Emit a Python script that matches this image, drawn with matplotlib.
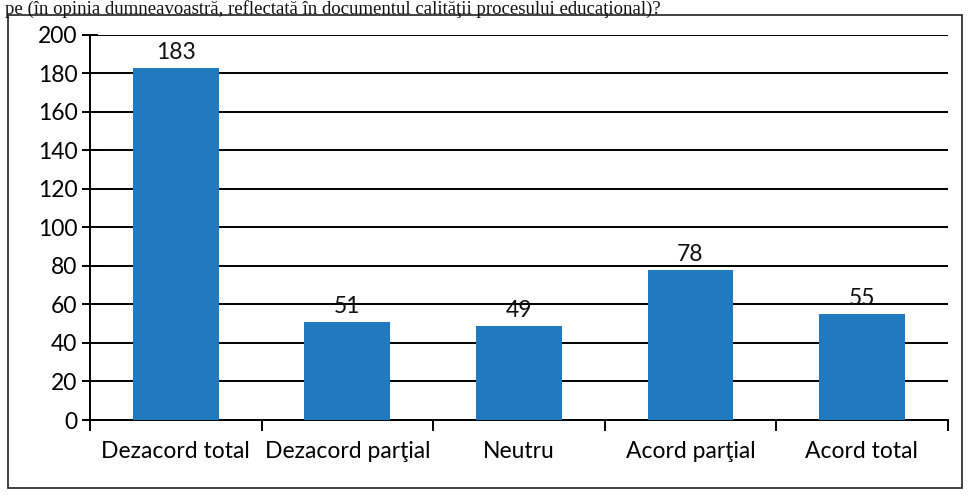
import matplotlib.pyplot as plt
from matplotlib.patches import Rectangle

# Survey answers
categories = ["Dezacord total", "Dezacord parţial", "Neutru", "Acord parţial", "Acord total"]
counts = [183, 51, 49, 78, 55]
yticks = [0, 20, 40, 60, 80, 100, 120, 140, 160, 180, 200]
header = "pe (în opinia dumneavoastră, reflectată în documentul calităţii procesului educaţional)?"

plt.rcParams['font.family'] = ['Lato', 'DejaVu Sans']

fig = plt.figure(figsize=(9.71, 4.95), dpi=100)
ax = fig.add_axes([0.0927, 0.1515, 0.8833, 0.778])

x = list(range(len(categories)))
bars = ax.bar(x, counts, width=0.5, color='#2179bf', zorder=3)
for b, v in zip(bars, counts):
    ax.text(b.get_x() + b.get_width() / 2, v + 2.5, str(v),
            ha='center', va='bottom', fontsize=16.5, color='#111111', zorder=4)

ax.set_xlim(-0.5, len(categories) - 0.5)
ax.set_ylim(0, 200)
ax.set_yticks(yticks)
ax.set_yticklabels([str(t) for t in yticks], fontsize=16.5)
ax.yaxis.grid(True, color='black', linewidth=1.4, zorder=1)
ax.set_axisbelow(True)

# category labels between boundary ticks
ax.set_xticks([i + 0.5 for i in range(-1, len(categories))])
ax.set_xticklabels([])
ax.set_xticks(x, minor=True)
ax.set_xticklabels(categories, minor=True, fontsize=16.5)
ax.tick_params(axis='x', which='minor', length=0, pad=15)
ax.tick_params(axis='x', which='major', length=8, width=1.4, direction='out')
ax.tick_params(axis='y', length=12, width=1.4, direction='inout', pad=3)

for s in ['top', 'right']:
    ax.spines[s].set_visible(False)
ax.spines['left'].set_linewidth(1.4)
ax.spines['bottom'].set_linewidth(1.4)

# frame of the scanned chart
fig.patches.append(Rectangle((8 / 971, 7 / 495), 954 / 971, 473 / 495,
                             transform=fig.transFigure, fill=False,
                             edgecolor='#333333', linewidth=1.3))

fig.text(0.005, 0.999, header, fontsize=13.5, family='Liberation Serif',
         ha='left', va='top', color='#111111')

fig.savefig('out.png', dpi=100)
